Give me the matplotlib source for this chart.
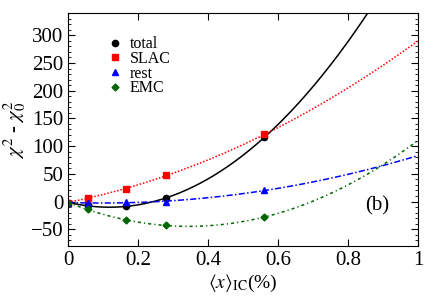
import numpy as np
import matplotlib
matplotlib.use('Agg')
import matplotlib.pyplot as plt
from matplotlib.ticker import MultipleLocator

plt.rcParams['font.family'] = ['Liberation Serif', 'DejaVu Serif']
plt.rcParams['mathtext.fontset'] = 'stix'

# points
x_ic = [0.0, 0.056, 0.167, 0.28, 0.561]
total = [-2, -7, -8.5, 6, 116]
slac = [-2, 7, 23, 47, 121]
rest = [-2, -3, 0, -1, 20]
emc = [-2, -14, -34, -43, -28]

series = [
    ('total', total, 'black', 'o', 4.5, '-'),
    ('SLAC', slac, 'red', 's', 5, (0, (1, 1.2))),
    ('rest', rest, 'blue', '^', 5, (0, (4, 1.5, 1, 1.5))),
    ('EMC', emc, '#006400', 'D', 3.5, (0, (2, 2, 0.8, 2))),
]

fig = plt.figure(figsize=(4.36, 3.05), dpi=100)
ax = fig.add_axes([0.156, 0.194, 0.803, 0.763])

xx = np.linspace(0, 1, 300)
for name, vals, col, mk, ms, ls in series:
    # quadratic fit through the points
    p = np.polyfit(x_ic, vals, 2)
    ax.plot(xx, np.polyval(p, xx), color=col, ls=ls, lw=1.1)
    ax.plot(x_ic, vals, ls='none', marker=mk, color=col, ms=ms, label=name)

ax.set_xlim(0, 1)
ax.set_ylim(-80, 340)
ax.yaxis.set_major_locator(MultipleLocator(50))
ax.yaxis.set_minor_locator(MultipleLocator(10))
ax.set_xticks([0, 0.2, 0.4, 0.6, 0.8, 1])
ax.set_xticklabels(['0', '0.2', '0.4', '0.6', '0.8', '1'])
ax.tick_params(which='both', direction='in', top=True, right=True, labelsize=15)
ax.tick_params(which='major', length=5)
ax.tick_params(which='minor', length=2.5)

ax.set_xlabel(r'$\langle x\rangle_{\mathrm{IC}}$(%)', fontsize=14, labelpad=2)
ax.set_ylabel(r'$\chi^2$ - $\chi_0^2$', fontsize=15, labelpad=2)

ax.legend(loc='upper left', bbox_to_anchor=(0.09, 0.928), frameon=False,
          fontsize=11.5, handletextpad=0.3, labelspacing=-0.08, borderaxespad=0,
          handlelength=1.2)
ax.text(0.85, 0.17, '(b)', transform=ax.transAxes, fontsize=15, va='center')

fig.savefig('out.png', dpi=100)
